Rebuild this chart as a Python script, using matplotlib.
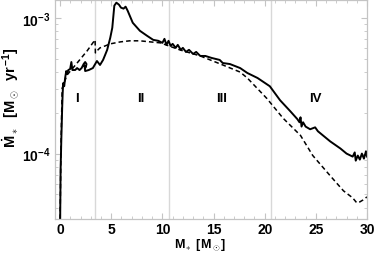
import matplotlib
matplotlib.use("Agg")
import matplotlib.pyplot as plt
from matplotlib.ticker import MultipleLocator, LogLocator, NullFormatter

# ==========================================================
# DATA
# ==========================================================
# simulation (solid)
m_sim = [0.00, 0.05, 0.12, 0.20, 0.25, 0.30, 0.40, 0.49, 0.60, 0.68, 0.80, 0.98,
         1.10, 1.20, 1.47, 1.66, 1.90, 2.10, 2.30, 2.45, 2.58, 2.50, 2.38, 2.45,
         2.80, 3.20, 3.60, 3.90, 4.20, 4.40, 4.60, 4.90, 5.10, 5.30, 5.50, 5.75,
         5.95, 6.20, 6.40, 6.60, 7.10, 7.80, 8.50, 9.10, 9.60, 10.0, 10.2, 10.4,
         10.6, 10.8, 11.0, 11.3, 11.5, 11.8, 12.0, 12.3, 12.6, 13.0, 13.3, 13.7,
         14.2, 14.8, 15.6, 15.9, 16.6, 17.6, 18.3, 19.3, 20.5, 21.5, 22.5, 23.2,
         23.4, 23.5, 23.6, 23.75, 24.0, 24.44, 24.93, 25.2, 25.8, 26.4, 27.4, 28.0,
         28.6, 28.8, 28.9, 29.1, 29.3, 29.5, 29.7, 29.9, 30.0]
mdot_sim = [3.0e-5, 7.7e-5, 1.29e-4, 2.16e-4, 2.78e-4, 3.30e-4, 3.13e-4, 3.60e-4,
            4.05e-4, 3.85e-4, 4.12e-4, 4.19e-4, 4.72e-4, 4.12e-4, 4.12e-4, 4.26e-4,
            4.12e-4, 4.26e-4, 4.56e-4, 4.72e-4, 4.56e-4, 4.30e-4, 4.45e-4, 4.05e-4,
            4.12e-4, 4.26e-4, 4.80e-4, 4.49e-4, 4.89e-4, 5.32e-4, 5.80e-4, 7.11e-4,
            8.43e-4, 1.227e-3, 1.29e-3, 1.248e-3, 1.186e-3, 1.166e-3, 1.206e-3,
            1.127e-3, 9.18e-4, 8.01e-4, 7.36e-4, 6.87e-4, 6.76e-4, 6.53e-4, 6.99e-4,
            6.31e-4, 6.76e-4, 6.20e-4, 6.42e-4, 6.00e-4, 6.31e-4, 5.80e-4, 6.00e-4,
            5.60e-4, 5.80e-4, 5.41e-4, 5.60e-4, 5.23e-4, 5.23e-4, 5.06e-4, 4.89e-4,
            4.64e-4, 4.56e-4, 4.26e-4, 3.92e-4, 3.60e-4, 3.13e-4, 2.47e-4, 2.05e-4,
            1.79e-4, 1.70e-4, 1.85e-4, 1.58e-4, 1.70e-4, 1.58e-4, 1.51e-4, 1.56e-4,
            1.46e-4, 1.34e-4, 1.23e-4, 1.09e-4, 1.00e-4, 9.5e-5, 1.02e-4, 8.87e-5,
            9.67e-5, 9.03e-5, 1.00e-4, 9.18e-5, 1.04e-4, 9.5e-5]

# model (dashed)
m_mod = [0.00, 0.08, 0.20, 0.68, 1.66, 2.64, 3.20, 3.42, 3.45, 3.60, 3.90, 4.40,
         4.90, 5.90, 6.80, 7.80, 8.80, 9.80, 11.7, 13.7, 15.9, 17.6, 18.3, 20.2,
         21.8, 23.5, 24.7, 26.4, 27.7, 28.6, 29.0, 29.3, 29.6, 30.0]
mdot_mod = [3.3e-5, 1.09e-4, 3.03e-4, 3.79e-4, 4.64e-4, 5.70e-4, 6.53e-4, 6.87e-4,
            5.51e-4, 5.70e-4, 6.00e-4, 6.20e-4, 6.42e-4, 6.64e-4, 6.76e-4, 6.76e-4,
            6.64e-4, 6.53e-4, 5.80e-4, 5.23e-4, 4.49e-4, 3.98e-4, 3.60e-4, 2.55e-4,
            1.82e-4, 1.36e-4, 9.67e-5, 6.87e-5, 5.32e-5, 4.72e-5, 4.34e-5, 4.41e-5,
            4.55e-5, 4.8e-5]

phase_bounds = [3.42, 10.65, 20.6]
phase_names = ["I", "II", "III", "IV"]
phase_label_x = [1.66, 7.9, 15.8, 25.0]
phase_label_y = 2.55e-4

# ==========================================================
# STYLE
# ==========================================================
plt.rcParams["font.family"] = ["Liberation Sans", "DejaVu Sans"]
plt.rcParams["font.weight"] = "bold"
plt.rcParams["mathtext.fontset"] = "custom"
plt.rcParams["mathtext.rm"] = "Liberation Sans:bold"
plt.rcParams["mathtext.it"] = "Liberation Sans:bold"
plt.rcParams["mathtext.bf"] = "Liberation Sans:bold"

frame = "#c4c4c4"

fig = plt.figure(figsize=(3.74, 2.55), dpi=100)
ax = fig.add_axes([55 / 374, 35 / 255, 312 / 374, 219 / 255])

for xb in phase_bounds:
    ax.axvline(xb, color="#d8d8d8", lw=1.0, zorder=0)

ax.semilogy(m_mod, mdot_mod, color="black", lw=1.1, ls=(0, (3, 2)))
ax.semilogy(m_sim, mdot_sim, color="black", lw=1.4)

for name, xl in zip(phase_names, phase_label_x):
    ax.text(xl, phase_label_y, name, ha="center", va="center",
            fontsize=9.5, fontweight="bold")

ax.set_xlim(-0.5, 30)
ax.set_ylim(3.3e-5, 1.35e-3)

ax.set_xticks([0, 5, 10, 15, 20, 25, 30])
ax.xaxis.set_minor_locator(MultipleLocator(1))
ax.set_yticks([1e-4, 1e-3])
ax.set_yticklabels([r"$10^{-4}$", r"$10^{-3}$"])
ax.yaxis.set_minor_locator(LogLocator(base=10, subs=range(2, 10)))
ax.yaxis.set_minor_formatter(NullFormatter())

ax.tick_params(which="both", direction="in", top=True, right=True,
               color=frame, labelsize=10)
ax.tick_params(axis="x", pad=2)
ax.tick_params(which="major", length=4, width=0.8)
ax.tick_params(which="minor", length=2, width=0.6)
for lab in ax.get_xticklabels() + ax.get_yticklabels():
    lab.set_fontweight("bold")

for sp in ax.spines.values():
    sp.set_color(frame)
    sp.set_linewidth(0.9)

ax.set_xlabel(r"$M_\ast\ [M_\odot]$", fontsize=9)
ax.xaxis.set_label_coords(0.465, -0.078)
ax.set_ylabel(r"$\dot{M}_\ast\ \ [M_\odot\ \ yr^{-1}]$", fontsize=10.5)
ax.yaxis.set_label_coords(-0.11, 0.56)

fig.savefig("out.png", dpi=100)
